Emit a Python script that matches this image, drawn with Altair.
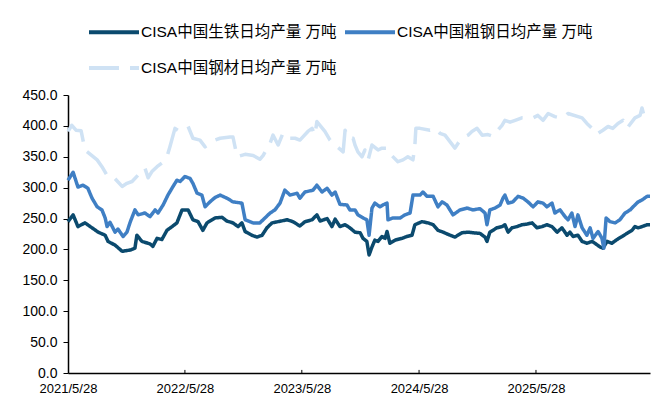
import altair as alt
import pandas as pd

SERIES = ["CISA中国生铁日均产量 万吨", "CISA中国粗钢日均产量 万吨", "CISA中国钢材日均产量 万吨"]
COLORS = ["#0b4a6e", "#3f7fc4", "#cfe2f4"]
DASHES = [[1, 0], [1, 0], [30, 11]]
# legend fills column by column: this order gives rows "iron, crude" / "products"
LEGEND_ORDER = [SERIES[0], SERIES[2], SERIES[1]]

iron_dates = [
    "2021-05-28", "2021-06-13", "2021-06-28", "2021-07-20", "2021-08-11", "2021-08-30", "2021-09-21", "2021-09-30",
    "2021-10-22", "2021-11-13", "2021-12-08", "2021-12-23", "2021-12-29", "2022-01-14", "2022-02-08", "2022-02-17",
    "2022-03-02", "2022-03-17", "2022-04-02", "2022-04-18", "2022-05-03", "2022-05-19", "2022-06-07", "2022-06-22",
    "2022-07-08", "2022-07-23", "2022-08-05", "2022-08-30", "2022-09-21", "2022-10-06", "2022-10-25", "2022-11-10",
    "2022-11-22", "2022-12-02", "2022-12-23", "2023-01-08", "2023-01-24", "2023-02-08", "2023-02-24", "2023-03-15",
    "2023-04-12", "2023-04-30", "2023-05-22", "2023-06-07", "2023-06-29", "2023-07-14", "2023-07-24", "2023-08-15",
    "2023-08-30", "2023-09-09", "2023-09-24", "2023-10-10", "2023-10-25", "2023-11-10", "2023-11-26", "2023-12-05",
    "2023-12-17", "2023-12-24", "2024-01-02", "2024-01-11", "2024-01-21", "2024-02-02", "2024-02-12", "2024-02-18",
    "2024-02-27", "2024-03-14", "2024-04-05", "2024-04-20", "2024-05-06", "2024-05-15", "2024-06-06", "2024-06-25",
    "2024-07-11", "2024-07-26", "2024-08-11", "2024-09-02", "2024-09-17", "2024-10-09", "2024-10-28", "2024-11-12",
    "2024-12-04", "2024-12-20", "2024-12-26", "2025-01-04", "2025-01-26", "2025-02-11", "2025-02-20", "2025-03-02",
    "2025-03-14", "2025-03-30", "2025-04-14", "2025-04-30", "2025-05-16", "2025-05-31", "2025-06-16", "2025-07-01",
    "2025-07-17", "2025-08-02", "2025-08-17", "2025-09-02", "2025-09-11", "2025-09-21", "2025-10-06", "2025-10-19",
    "2025-11-03", "2025-11-19", "2025-11-28", "2025-12-14", "2025-12-23", "2026-01-05", "2026-01-20", "2026-02-05",
    "2026-02-21", "2026-03-08", "2026-03-24", "2026-04-02", "2026-04-12", "2026-04-24", "2026-05-10", "2026-05-19",
]
iron_values = [
    245, 256, 237, 243, 235, 228, 223, 213,
    207, 197, 199, 202, 223, 213, 209, 205,
    218, 216, 231, 237, 243, 264, 264, 248,
    245, 231, 243, 251, 252, 246, 243, 237,
    243, 229, 223, 220, 223, 235, 243, 245,
    248, 245, 238, 245, 248, 256, 246, 250,
    237, 249, 237, 240, 235, 228, 227, 218,
    213, 191, 204, 215, 213, 221, 218, 229,
    210, 215, 218, 221, 223, 240, 245, 243,
    240, 231, 228, 223, 220, 227, 228, 227,
    226, 220, 213, 228, 235, 237, 240, 228,
    235, 237, 240, 241, 243, 235, 237, 240,
    237, 228, 235, 223, 228, 221, 223, 213,
    210, 213, 210, 204, 202, 213, 210, 216,
    221, 226, 231, 237, 235, 237, 240, 240,
]

crude_dates = [
    "2021-05-28", "2021-06-13", "2021-06-28", "2021-07-14", "2021-07-29", "2021-08-11", "2021-08-27", "2021-09-11",
    "2021-09-21", "2021-09-27", "2021-10-06", "2021-10-22", "2021-10-31", "2021-11-16", "2021-11-28", "2021-12-08",
    "2021-12-23", "2022-01-02", "2022-01-23", "2022-02-08", "2022-02-24", "2022-03-05", "2022-03-21", "2022-04-05",
    "2022-04-21", "2022-05-03", "2022-05-13", "2022-05-28", "2022-06-13", "2022-06-22", "2022-07-05", "2022-07-20",
    "2022-07-30", "2022-08-14", "2022-08-30", "2022-09-15", "2022-10-06", "2022-10-25", "2022-11-22", "2022-12-02",
    "2022-12-27", "2023-01-17", "2023-02-02", "2023-02-18", "2023-03-05", "2023-03-21", "2023-04-05", "2023-04-21",
    "2023-05-13", "2023-05-22", "2023-06-07", "2023-07-02", "2023-07-14", "2023-07-30", "2023-08-15", "2023-08-30",
    "2023-09-09", "2023-09-24", "2023-10-16", "2023-10-25", "2023-11-10", "2023-11-19", "2023-12-05", "2023-12-17",
    "2023-12-24", "2024-01-02", "2024-01-11", "2024-01-27", "2024-02-05", "2024-02-18", "2024-02-21", "2024-03-08",
    "2024-03-30", "2024-04-14", "2024-04-30", "2024-05-09", "2024-05-31", "2024-06-09", "2024-06-22", "2024-07-11",
    "2024-07-26", "2024-08-08", "2024-08-23", "2024-09-11", "2024-10-03", "2024-10-25", "2024-11-12", "2024-12-04",
    "2024-12-20", "2024-12-26", "2025-01-04", "2025-01-20", "2025-02-05", "2025-02-14", "2025-02-20", "2025-03-02",
    "2025-03-17", "2025-04-02", "2025-04-18", "2025-05-03", "2025-05-19", "2025-06-03", "2025-06-19", "2025-07-01",
    "2025-07-17", "2025-07-26", "2025-08-11", "2025-08-27", "2025-09-05", "2025-09-17", "2025-09-27", "2025-10-06",
    "2025-10-19", "2025-11-03", "2025-11-13", "2025-11-22", "2025-12-08", "2025-12-20", "2025-12-26", "2026-01-02",
    "2026-01-14", "2026-01-30", "2026-02-14", "2026-03-02", "2026-03-18", "2026-04-02", "2026-04-12", "2026-04-24",
    "2026-05-10", "2026-05-19",
]
crude_values = [
    312, 325, 301, 304, 299, 283, 269, 264,
    251, 237, 244, 228, 233, 221, 228, 244,
    264, 256, 259, 253, 264, 259, 272, 288,
    302, 312, 310, 318, 315, 307, 291, 288,
    269, 277, 284, 288, 283, 277, 275, 248,
    243, 243, 251, 259, 264, 275, 296, 288,
    291, 283, 293, 296, 304, 293, 299, 288,
    293, 273, 272, 264, 264, 256, 251, 248,
    223, 267, 275, 269, 272, 275, 248, 251,
    251, 256, 259, 288, 288, 293, 286, 286,
    269, 277, 272, 256, 264, 267, 264, 266,
    259, 240, 264, 267, 272, 283, 288, 275,
    277, 286, 283, 277, 269, 277, 275, 269,
    275, 259, 264, 253, 248, 259, 237, 256,
    235, 223, 235, 218, 229, 218, 202, 251,
    245, 243, 248, 259, 264, 272, 277, 280,
    286, 286,
]

products_dates = [
    "2021-05-28", "2021-06-09", "2021-06-22", "2021-07-08", "2021-07-20", "2021-08-27", "2021-09-11", "2021-09-27",
    "2021-10-12", "2021-11-13", "2021-11-28", "2021-12-14", "2022-01-23", "2022-02-02", "2022-02-14", "2022-03-02",
    "2022-03-17", "2022-04-02", "2022-04-11", "2022-04-27", "2022-05-06", "2022-06-07", "2022-06-22", "2022-07-14",
    "2022-07-30", "2022-08-14", "2022-08-30", "2022-09-15", "2022-10-16", "2022-10-25", "2022-11-07", "2022-12-02",
    "2022-12-27", "2023-01-17", "2023-01-27", "2023-02-18", "2023-02-27", "2023-03-15", "2023-03-30", "2023-04-15",
    "2023-05-07", "2023-05-22", "2023-06-16", "2023-06-29", "2023-07-08", "2023-07-14", "2023-08-08", "2023-08-24",
    "2023-09-09", "2023-10-04", "2023-10-10", "2023-10-19", "2023-11-04", "2023-11-10", "2023-11-19", "2023-12-02",
    "2023-12-11", "2023-12-21", "2024-01-02", "2024-01-21", "2024-02-02", "2024-02-18", "2024-02-21", "2024-03-23",
    "2024-04-08", "2024-04-23", "2024-05-09", "2024-05-15", "2024-05-18", "2024-05-31", "2024-07-01", "2024-07-17",
    "2024-08-01", "2024-08-17", "2024-09-17", "2024-09-27", "2024-10-09", "2024-10-28", "2024-11-09", "2024-11-25",
    "2024-12-11", "2024-12-29", "2025-01-14", "2025-01-29", "2025-02-11", "2025-02-20", "2025-03-08", "2025-03-24",
    "2025-04-14", "2025-05-19", "2025-06-03", "2025-06-19", "2025-07-05", "2025-07-26", "2025-08-11", "2025-08-27",
    "2025-09-05", "2025-10-19", "2025-11-03", "2025-11-19", "2025-11-22", "2025-12-08", "2025-12-23", "2026-01-08",
    "2026-01-23", "2026-02-08", "2026-02-24", "2026-03-08", "2026-04-02", "2026-04-18", "2026-04-24", "2026-05-01",
    "2026-05-19",
]
products_values = [
    391, 401, 393, 392, 361, 345, 334, 320,
    320, 302, 307, 310, 332, 316, 326, 334,
    340, 350, 366, 396, 393, 399, 380, 377,
    366, 372, 377, 380, 382, 382, 350, 354,
    352, 346, 352, 372, 385, 369, 388, 380,
    380, 377, 391, 396, 385, 407, 391, 377,
    369, 358, 393, 380, 380, 369, 358, 350,
    361, 345, 369, 361, 364, 364, 358, 342,
    345, 350, 345, 369, 396, 396, 393, 396,
    388, 385, 364, 372, 380, 385, 391, 396,
    385, 386, 383, 393, 401, 409, 406, 409,
    413, 413, 417, 409, 420, 415, 413, 415,
    420, 413, 404, 396, 398, 388, 393, 399,
    396, 404, 409, 396, 413, 417, 429, 415,
    412,
]

tick_dates = ["2022-05-28", "2023-05-28", "2024-05-28", "2025-05-28"]
y_ticks = [0, 50, 100, 150, 200, 250, 300, 350, 400, 450]

rows = []
for name, ds, vs in zip(SERIES, [iron_dates, crude_dates, products_dates],
                        [iron_values, crude_values, products_values]):
    for d, v in zip(ds, vs):
        rows.append({"date": d, "value": v, "series": name})
df = pd.DataFrame(rows)

tick_df = pd.DataFrame({"date": tick_dates, "y0": [0] * len(tick_dates), "y1": [5] * len(tick_dates)})

FONT = "Liberation Sans, Arial, Noto Sans CJK SC"

x_scale = alt.Scale(type="utc", domain=[alt.DateTime(year=2021, month=5, date=28, utc=True),
                                        alt.DateTime(year=2026, month=5, date=19, utc=True)])
y_scale = alt.Scale(domain=[0, 450], nice=False)

x_axis = alt.Axis(
    values=[alt.DateTime(year=y, month=5, date=28, utc=True) for y in [2021, 2022, 2023, 2024, 2025]],
    labelExpr="utcFormat(datum.value, '%Y/%-m/%d')", title=None, grid=False, ticks=False,
    labelPadding=9, labelFont=FONT, labelFontSize=13, labelColor="black",
    domainColor="black", domainWidth=1.5, labelFlush=False, labelOverlap=False,
)
y_axis = alt.Axis(
    values=y_ticks, format=".1f", title=None, grid=False, tickSize=5, tickColor="black",
    tickWidth=1, labelPadding=6, labelFont=FONT, labelFontSize=14, labelColor="black",
    domainColor="black", domainWidth=1.5, labelOverlap=False, labelFlush=False,
)

lines = alt.Chart(df).mark_line(strokeWidth=3.5, strokeCap="butt", strokeJoin="round").encode(
    x=alt.X("date:T", scale=x_scale, axis=x_axis),
    y=alt.Y("value:Q", scale=y_scale, axis=y_axis),
    color=alt.Color("series:N",
                    scale=alt.Scale(domain=LEGEND_ORDER, range=[COLORS[0], COLORS[2], COLORS[1]]),
                    legend=alt.Legend(
                        title=None, orient="none", legendX=19, legendY=-90, columns=2,
                        symbolType="stroke", symbolSize=2500, symbolStrokeWidth=4,
                        labelFont=FONT, labelFontSize=15.5, labelColor="black", labelLimit=400,
                        columnPadding=0, rowPadding=-13, padding=0, labelOffset=0,
                    )),
    strokeDash=alt.StrokeDash("series:N",
                              scale=alt.Scale(domain=LEGEND_ORDER, range=[DASHES[0], DASHES[2], DASHES[1]]),
                              legend=None),
    order=alt.Order("date:T"),
)

ticks = alt.Chart(tick_df).mark_rule(color="black", strokeWidth=1).encode(
    x=alt.X("date:T", scale=x_scale, axis=x_axis),
    y=alt.Y("y0:Q", scale=y_scale, axis=y_axis),
    y2="y1:Q",
)

chart = alt.layer(lines, ticks).properties(
    width=582, height=278,
    padding={"left": 60, "top": 87, "right": 12, "bottom": 22},
    autosize=alt.AutoSizeParams(type="none"),
    background="white",
).configure_view(stroke=None)

chart.save("out.html", embed_options={"renderer": "svg", "actions": False})
